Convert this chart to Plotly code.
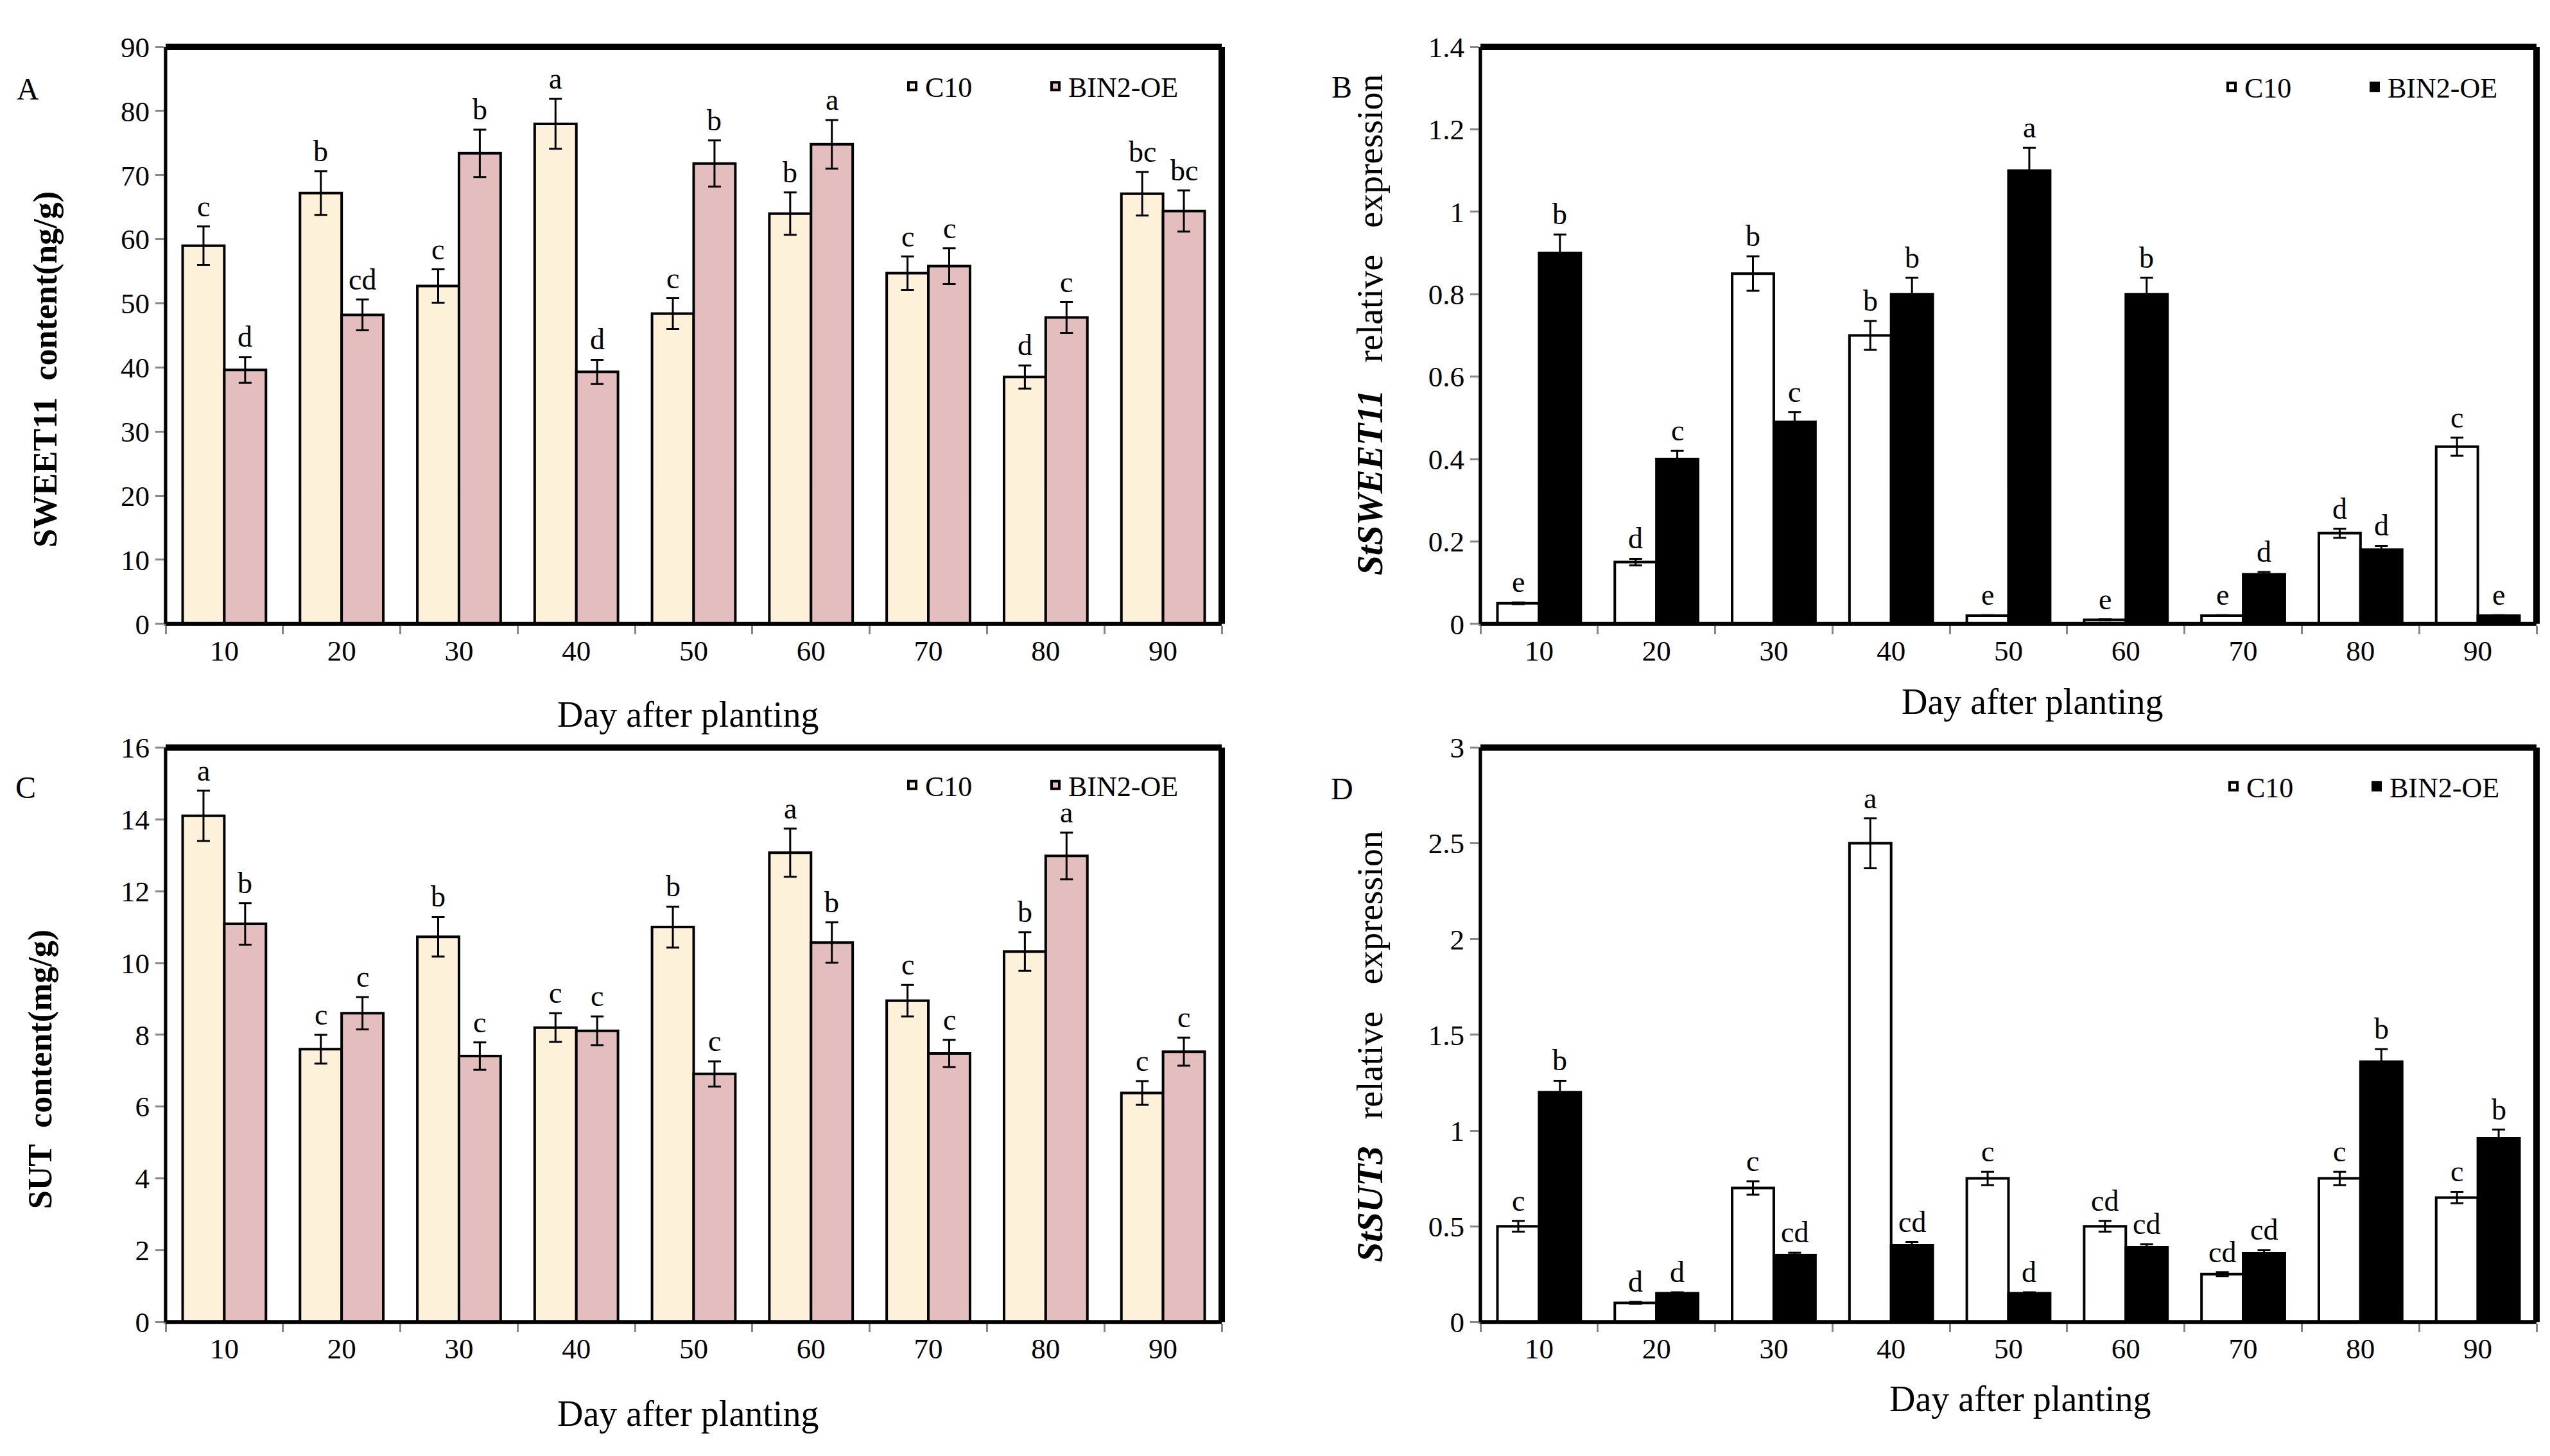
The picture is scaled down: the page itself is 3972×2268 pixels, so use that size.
import plotly.graph_objects as go

W, H = 3972, 2268

days = ["10", "20", "30", "40", "50", "60", "70", "80", "90"]

# A: SWEET11 content (ng/g)
a_c10 = [59.0, 67.2, 52.7, 78.0, 48.4, 64.0, 54.7, 38.5, 67.1]
a_c10_err = [3.0, 3.4, 2.6, 3.9, 2.4, 3.3, 2.6, 1.8, 3.4]
a_bin = [39.6, 48.2, 73.4, 39.3, 71.8, 74.8, 55.8, 47.8, 64.4]
a_bin_err = [2.0, 2.4, 3.7, 1.9, 3.6, 3.8, 2.8, 2.4, 3.2]
a_c10_lab = ["c", "b", "c", "a", "c", "b", "c", "d", "bc"]
a_bin_lab = ["d", "cd", "b", "d", "b", "a", "c", "c", "bc"]

# B: StSWEET11 relative expression
b_c10 = [0.05, 0.15, 0.85, 0.70, 0.02, 0.01, 0.02, 0.22, 0.43]
b_c10_err = [0.002, 0.008, 0.042, 0.035, 0.001, 0.001, 0.001, 0.011, 0.022]
b_bin = [0.90, 0.40, 0.49, 0.80, 1.10, 0.80, 0.12, 0.18, 0.02]
b_bin_err = [0.045, 0.02, 0.024, 0.04, 0.055, 0.04, 0.006, 0.009, 0.001]
b_c10_lab = ["e", "d", "b", "b", "e", "e", "e", "d", "c"]
b_bin_lab = ["b", "c", "c", "b", "a", "b", "d", "d", "e"]

# C: SUT content (mg/g)
c_c10 = [14.1, 7.6, 10.73, 8.2, 11.0, 13.07, 8.95, 10.32, 6.38]
c_c10_err = [0.7, 0.4, 0.55, 0.4, 0.57, 0.67, 0.44, 0.54, 0.33]
c_bin = [11.09, 8.6, 7.41, 8.11, 6.91, 10.57, 7.48, 12.98, 7.53]
c_bin_err = [0.58, 0.45, 0.38, 0.4, 0.35, 0.56, 0.38, 0.65, 0.39]
c_c10_lab = ["a", "c", "b", "c", "b", "a", "c", "b", "c"]
c_bin_lab = ["b", "c", "c", "c", "c", "b", "c", "a", "c"]

# D: StSUT3 relative expression
d_c10 = [0.50, 0.10, 0.70, 2.50, 0.75, 0.50, 0.25, 0.75, 0.65]
d_c10_err = [0.028, 0.005, 0.035, 0.13, 0.035, 0.028, 0.01, 0.035, 0.03]
d_bin = [1.20, 0.15, 0.35, 0.40, 0.15, 0.39, 0.36, 1.36, 0.96]
d_bin_err = [0.06, 0.005, 0.012, 0.018, 0.005, 0.017, 0.015, 0.065, 0.045]
d_c10_lab = ["c", "d", "c", "a", "c", "cd", "cd", "c", "c"]
d_bin_lab = ["b", "d", "cd", "cd", "d", "cd", "cd", "b", "b"]

FONT = "Liberation Serif"
GREY = "#878787"
BARGAP = 0.29

# panel domains (paper fractions)
xl = [250 / W, 1895 / W]
xr = [2298 / W, 3943 / W]
yt = [1 - 961 / H, 1 - 42 / H]
yb = [1 - 2073 / H, 1 - 1158 / H]

panels = [
    dict(ax="", xd=xl, yd=yt, rng=[0, 90], dt=10, c10=a_c10, c10e=a_c10_err, bn=a_bin, bne=a_bin_err,
         lc=a_c10_lab, lb=a_bin_lab, col=("#FDF1D9", "#E4BEBE"), leg="legend"),
    dict(ax="2", xd=xr, yd=yt, rng=[0, 1.4], dt=0.2, c10=b_c10, c10e=b_c10_err, bn=b_bin, bne=b_bin_err,
         lc=b_c10_lab, lb=b_bin_lab, col=("white", "black"), leg="legend2"),
    dict(ax="3", xd=xl, yd=yb, rng=[0, 16], dt=2, c10=c_c10, c10e=c_c10_err, bn=c_bin, bne=c_bin_err,
         lc=c_c10_lab, lb=c_bin_lab, col=("#FDF1D9", "#E4BEBE"), leg="legend3"),
    dict(ax="4", xd=xr, yd=yb, rng=[0, 3], dt=0.5, c10=d_c10, c10e=d_c10_err, bn=d_bin, bne=d_bin_err,
         lc=d_c10_lab, lb=d_bin_lab, col=("white", "black"), leg="legend4"),
]

fig = go.Figure()
annotations = []
shapes = []
layout_axes = {}

for p in panels:
    xa, ya = "x" + p["ax"], "y" + p["ax"]
    names = ["C10", "BIN2-OE"]
    vals = [p["c10"], p["bn"]]
    errs = [p["c10e"], p["bne"]]
    labs = [p["lc"], p["lb"]]
    # half bar width in px, used to put letters above each bar
    cat_px = (p["xd"][1] - p["xd"][0]) * W / len(days)
    half = cat_px * (1 - BARGAP) / 4
    for k in range(2):
        fig.add_trace(go.Bar(
            x=days, y=vals[k], name=names[k], xaxis=xa, yaxis=ya,
            offsetgroup=str(k), legend=p["leg"],
            marker=dict(color=p["col"][k], line=dict(color="black", width=4)),
            error_y=dict(type="data", array=errs[k], color="black", thickness=3, width=10),
        ))
        for i in range(len(days)):
            # category axis: position by category index
            annotations.append(dict(
                x=i, y=vals[k][i] + errs[k][i], xref=xa, yref=ya, text=labs[k][i],
                showarrow=False, yanchor="bottom", xshift=(-half if k == 0 else half), yshift=4,
                font=dict(family=FONT, size=46, color="black"),
            ))
    key = p["ax"]
    layout_axes["xaxis" + key] = dict(
        domain=p["xd"], anchor=ya, type="category", categoryorder="array", categoryarray=days,
        range=[-0.5, len(days) - 0.5], tickson="boundaries",
        ticks="outside", ticklen=13, tickwidth=3, tickcolor=GREY,
        showline=True, linecolor=GREY, linewidth=3, showgrid=False, zeroline=False,
        tickfont=dict(family=FONT, size=45, color="black"),
    )
    layout_axes["yaxis" + key] = dict(
        domain=p["yd"], anchor=xa, range=p["rng"], dtick=p["dt"], tick0=0,
        ticks="outside", ticklen=13, tickwidth=3, tickcolor=GREY,
        showline=True, linecolor=GREY, linewidth=3, showgrid=False, zeroline=False,
        tickfont=dict(family=FONT, size=45, color="black"),
    )
    # black frame: thin left/bottom, thick top/right
    xr_, yr_ = xa + " domain", ya + " domain"
    for (x0, y0, x1, y1, w) in [(0, 0, 0, 1, 5), (0, 0, 1, 0, 6), (0, 1, 1, 1, 10), (1, 0, 1, 1, 10)]:
        shapes.append(dict(type="line", xref=xr_, yref=yr_, x0=x0, y0=y0, x1=x1, y1=y1,
                           line=dict(color="black", width=w)))

# axis titles and panel letters
def txt(x, y, text, size, angle=0, anchor="center"):
    annotations.append(dict(
        x=x / W, y=1 - y / H, xref="paper", yref="paper", text=text, showarrow=False,
        textangle=angle, xanchor=anchor, yanchor="middle",
        font=dict(family=FONT, size=size, color="black"),
    ))

txt(1063, 1105, "Day after planting", 56)
txt(3157, 1085, "Day after planting", 56)
txt(1063, 2219, "Day after planting", 56)
txt(3138, 2195, "Day after planting", 56)

txt(63, 556, "<b>SWEET11  content(ng/g)</b>", 52, -90)
txt(2126, 485, "<b><i>StSWEET11</i></b>   relative   expression", 56, -90)
txt(55, 1671, "<b>SUT  content(mg/g)</b>", 52, -90)
txt(2126, 1634, "<b><i>StSUT3</i></b>   relative   expression", 56, -90)

txt(35, 109, "A", 48)
txt(2082, 106, "B", 48)
txt(32, 1221, "C", 48)
txt(2082, 1223, "D", 48)

legends = {}
for name, (xp, yp) in {"legend": (1393, 105), "legend2": (3448, 106),
                       "legend3": (1393, 1218), "legend4": (3451, 1220)}.items():
    legends[name] = dict(
        x=xp / W, y=1 - yp / H, xanchor="left", yanchor="middle", orientation="h",
        bgcolor="rgba(0,0,0,0)", font=dict(family=FONT, size=44, color="black"),
        itemwidth=30, entrywidth=178, entrywidthmode="pixels",
    )

fig.update_layout(
    width=W, height=H,
    margin=dict(l=0, r=0, t=0, b=0),
    paper_bgcolor="white", plot_bgcolor="white",
    barmode="group", bargap=BARGAP, bargroupgap=0,
    showlegend=True,
    annotations=annotations, shapes=shapes,
    font=dict(family=FONT, color="black"),
    **layout_axes, **legends,
)

fig.write_html("out.html")
